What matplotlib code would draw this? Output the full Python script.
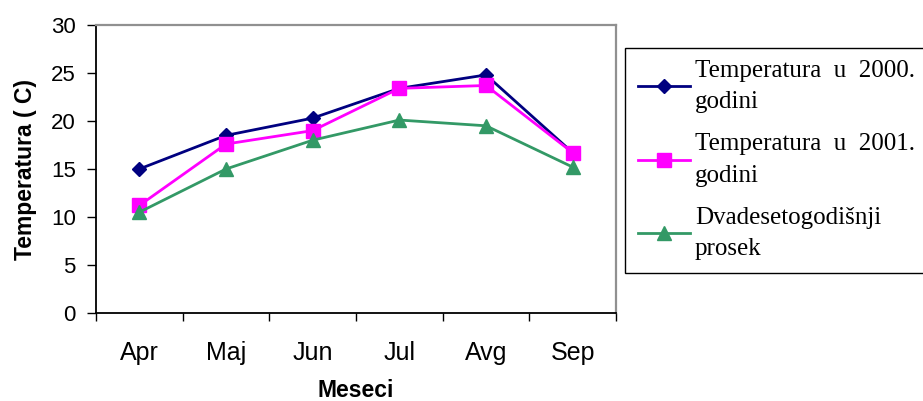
import numpy as np
import matplotlib
matplotlib.use("Agg")
import matplotlib.pyplot as plt

# podaci
meseci = ['Apr', 'Maj', 'Jun', 'Jul', 'Avg', 'Sep']
temp_2000 = [15.0, 18.5, 20.3, 23.4, 24.8, 16.7]
temp_2001 = [11.2, 17.6, 19.0, 23.4, 23.7, 16.7]
prosek = [10.5, 15.0, 18.0, 20.1, 19.5, 15.2]
labels = ['Temperatura  u  2000.\ngodini',
          'Temperatura  u  2001.\ngodini',
          'Dvadesetogodišnji\nprosek']
y_ticks = [0, 5, 10, 15, 20, 25, 30]

W, H = 923, 401
fig = plt.figure(figsize=(W / 100, H / 100), dpi=100)
ax = fig.add_axes([96 / W, 1 - 313 / H, (616 - 96) / W, (313 - 25) / H])

x = np.arange(len(meseci))
l1, = ax.plot(x, temp_2000, color='#000080', lw=2, marker='D', ms=7.5,
              mec='#000080', mfc='#000080')
l2, = ax.plot(x, temp_2001, color='#FF00FF', lw=2, marker='s', ms=9.5,
              mec='#FF00FF', mfc='#FF00FF')
l3, = ax.plot(x, prosek, color='#339966', lw=2, marker='^', ms=10,
              mec='#339966', mfc='#339966')

ax.set_xlim(-0.5, len(meseci) - 0.5)
ax.set_ylim(0, 30)
ax.set_yticks(y_ticks)
ax.set_xticks(np.arange(len(meseci) + 1) - 0.5)
ax.set_xticklabels([])
ax.set_xticks(x, minor=True)
ax.set_xticklabels(meseci, minor=True, fontsize=18, family='Liberation Sans')
ax.tick_params(axis='x', which='minor', length=0, pad=20)
ax.tick_params(axis='x', which='major', length=6, width=1, direction='out')
ax.tick_params(axis='y', length=6.5, width=1, pad=8, labelsize=16)
for t in ax.get_yticklabels():
    t.set_family('Liberation Sans')

for s in ['left', 'bottom']:
    ax.spines[s].set_color('black')
    ax.spines[s].set_linewidth(1.3)
for s in ['top', 'right']:
    ax.spines[s].set_color('#909090')
    ax.spines[s].set_linewidth(1.6)

ax.set_ylabel('Temperatura ( C)', fontsize=16.5, fontweight='bold',
              family='Liberation Sans', labelpad=10)
ax.set_xlabel('Meseci', fontsize=16.5, fontweight='bold',
              family='Liberation Sans', labelpad=10)

leg = fig.legend([l1, l2, l3], labels, loc='upper left',
                 bbox_to_anchor=(625 / W, 1 - 47.5 / H),
                 bbox_transform=fig.transFigure,
                 prop={'family': 'Liberation Serif', 'size': 18},
                 frameon=True, fancybox=False, edgecolor='black',
                 framealpha=1, borderpad=0.5, handlelength=2.1,
                 handletextpad=0.2, labelspacing=0.8, borderaxespad=0)
leg.get_frame().set_linewidth(1.0)
for t in leg.get_texts():
    t.set_linespacing(1.55)

fig.savefig('out.png', dpi=100)
